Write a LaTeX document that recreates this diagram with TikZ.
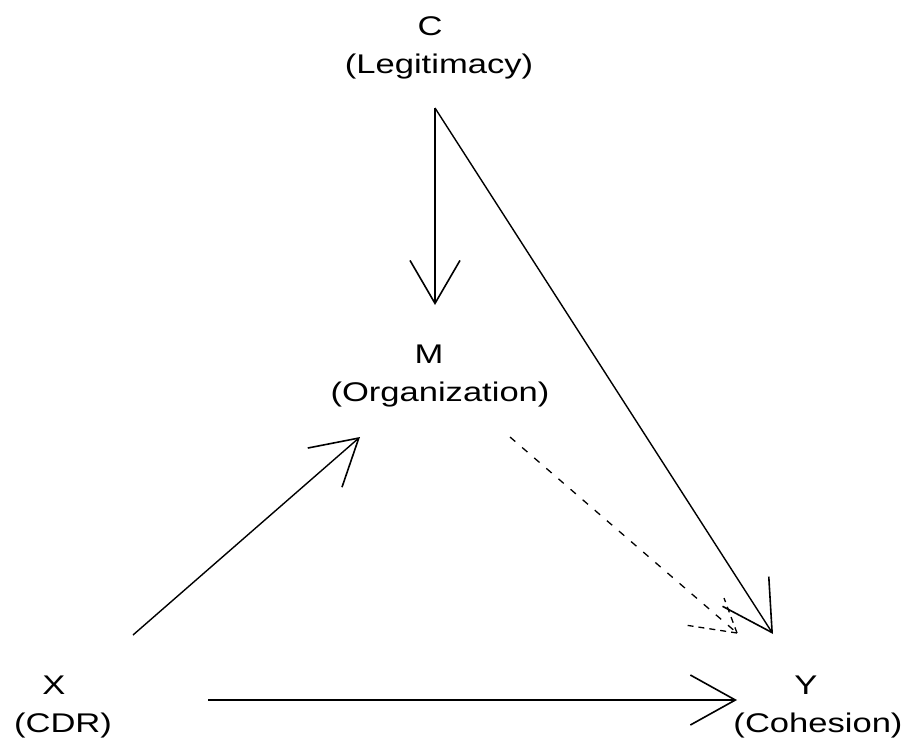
\documentclass[tikz,border=0pt]{standalone}
\usepackage{fontspec}
\setmainfont[FakeStretch=1.28]{Liberation Sans}
\usetikzlibrary{arrows.meta}
\begin{document}
\begin{tikzpicture}[x=1pt,y=-1pt,
  var/.style={align=center,inner sep=0pt,anchor=base,font=\fontsize{27}{38}\selectfont},
  link/.style={line width=1.4pt},
  thick link/.style={line width=2.2pt},
  barb/.style={-{Straight Barb[length=#1,width=50pt,line width=1.6pt]}},
  dash link/.style={line width=1.3pt,dash pattern=on 7pt off 9pt}]
\useasboundingbox[fill=white] (0,0) rectangle (901,741);
\node[var] (C) at (439,74) {C\hspace*{18pt}\\(Legitimacy)};
\node[var] (M) at (440,401) {M\hspace*{22pt}\\(Organization)};
\node[var] (X) at (63,732) {X\hspace*{18pt}\\(CDR)};
\node[var] (Y) at (818,732) {Y\hspace*{24pt}\\(Cohesion)};
% C -> M
\draw[thick link,barb=43pt] ([shift={(-4,34)}]C.base) -- ([shift={(-5,-96)}]M.base);
% C -> Y
\draw[link,-{Straight Barb[length=49pt,width=55pt,line width=1.6pt]}] ([shift={(-4,34)}]C.base) -- ([shift={(-45,-98)}]Y.base);
% X -> M
\draw[link,-{Straight Barb[length=45pt,width=52pt,line width=1.6pt]}] ([shift={(70,-97)}]X.base) -- ([shift={(-80,36)}]M.base);
% X -> Y
\draw[thick link,barb=45pt] ([shift={(145,-32)}]X.base) -- ([shift={(-81,-32)}]Y.base);
% M -> Y (dashed)
\coordinate (mytip) at ([shift={(-81,-99)}]Y.base);
\draw[dash link] ([shift={(70,36)}]M.base) -- (mytip);
\draw[dash link,dash pattern=on 6pt off 5pt] (mytip) -- ++(-13,-35);
\draw[dash link,dash pattern=on 6pt off 5pt] (mytip) -- ++(-52,-8);
\end{tikzpicture}
\end{document}
